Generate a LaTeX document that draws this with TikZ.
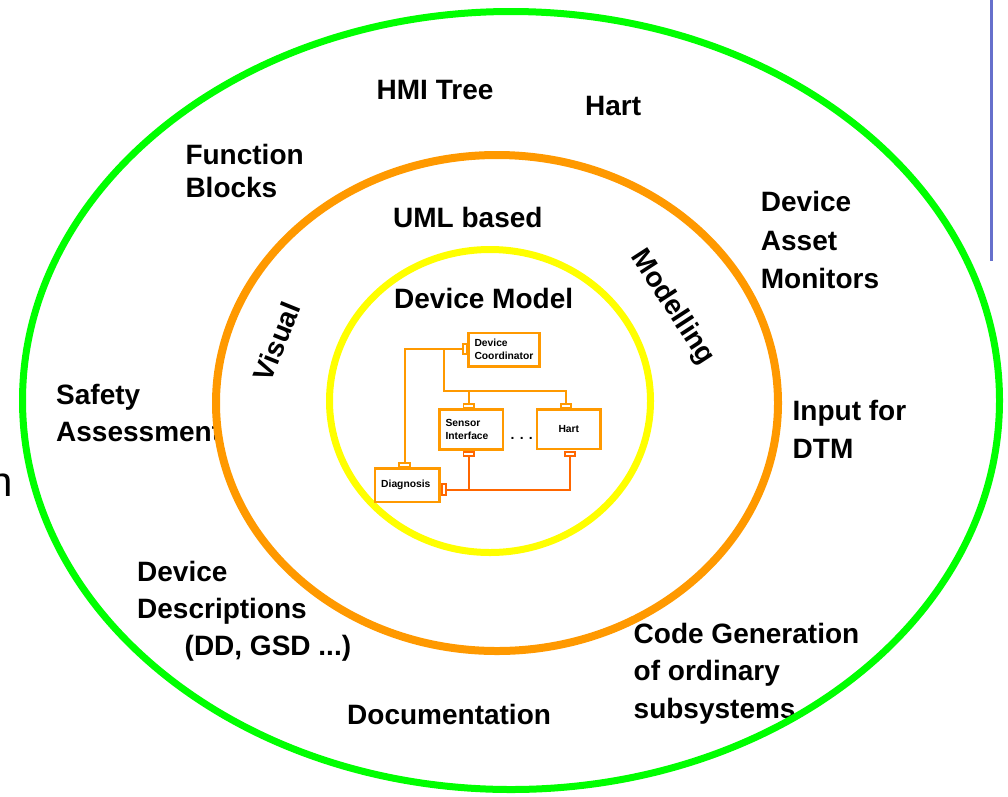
\documentclass[tikz,border=0pt]{standalone}
\usepackage{fontspec}
\setmainfont{Liberation Sans}
\definecolor{ringgreen}{RGB}{0,255,0}
\definecolor{ringorange}{RGB}{255,153,0}
\definecolor{ringyellow}{RGB}{255,255,0}
\definecolor{umlorange}{RGB}{255,153,0}
\definecolor{umlred}{RGB}{255,102,0}
\definecolor{sidebar}{RGB}{102,112,204}
\begin{document}
\begin{tikzpicture}[x=1pt,y=-1pt,
  lbl/.style={anchor=base west, inner sep=0pt, font=\bfseries\fontsize{28}{37}\selectfont},
  tilted/.style={inner sep=0pt, font=\bfseries\fontsize{28}{37}\selectfont},
  ring/.style={line width=7pt},
  ubox/.style={draw=umlorange, line width=2.4pt, fill=white, rectangle,
    inner xsep=6pt, inner ysep=0pt, align=left,
    font=\bfseries\fontsize{10.3}{13}\selectfont},
  port/.style={draw=umlorange, line width=1.8pt, fill=white, rectangle, inner sep=0pt},
  portlow/.style={port, draw=umlred},
  wire/.style={draw=umlorange, line width=2pt},
  wirelow/.style={draw=umlred, line width=2pt}
]
\useasboundingbox (0,0) rectangle (1008,796);

% labels of the outer ring
\node[lbl] (hmi) at (376.5,99.3) {HMI Tree};
\node[lbl] (hartout) at (585,115) {Hart};
\node[lbl] (fb1) at (185.3,164.3) {Function};
\node[lbl] (fb2) at (185.3,197.7) {Blocks};
\node[lbl] (dam1) at (760.7,211.7) {Device};
\node[lbl] (dam2) at (760.7,250) {Asset};
\node[lbl] (dam3) at (760.7,288.3) {Monitors};
\node[lbl] (sa1) at (56,404.3) {Safety};
\node[lbl] (sa2) at (56,441) {Assessment};
\node[lbl] (in1) at (792.5,420) {Input for};
\node[lbl] (in2) at (792.5,458.3) {DTM};
\node[lbl] (dd1) at (137,581) {Device};
\node[lbl] (dd2) at (137,618.5) {Descriptions};
\node[lbl] (dd3) at (184.5,655.5) {(DD, GSD ...)};
\node[lbl] (cg1) at (633.5,643.3) {Code Generation};
\node[lbl] (cg2) at (633.5,680.5) {of ordinary};
\node[lbl] (cg3) at (633.5,718.3) {subsystems};
\node[lbl] (doc) at (347,724) {Documentation};
\node[anchor=base west, inner sep=0pt, font=\fontsize{42}{42}\selectfont] (cut) at (-10.6,496.7) {n};

% labels of the middle ring
\node[lbl] (uml) at (393,227.7) {UML based};
\node[tilted, rotate=68] (visual) at (276.7,341.7) {Visual};
\node[tilted, rotate=-57] (modelling) at (672.5,307.5) {Modelling};

% label of the inner ring
\node[lbl] (dm) at (394,308.3) {Device Model};

% rings
\draw[ring, ringgreen] (511,400.5) ellipse [x radius=488.5, y radius=389];
\draw[ring, line width=8pt, ringorange] (497,403) ellipse [x radius=281, y radius=248];
\draw[ring, ringyellow] (490,401) ellipse [x radius=160.5, y radius=151.5];

% side bar
\draw[sidebar, line width=3.3pt] (991.7,0) -- (991.7,261);

% UML class boxes
\node[ubox, text width=59pt, minimum height=33.6pt] (dc) at (504,349.7) {Device\\Coordinator};
\node[ubox, text width=51.6pt, minimum height=40pt] (si) at (471.3,429.5) {Sensor\\Interface};
\node[ubox, text width=51.3pt, minimum height=39.3pt, align=center] (hart) at (568.85,429.2) {Hart};
\node[ubox, text width=52.3pt, minimum height=33.6pt] (diag) at (407.35,485.3) {Diagnosis};
\node[anchor=base, inner sep=0pt, font=\bfseries\fontsize{14}{14}\selectfont] (dots) at (521.7,439.5) {. . .};

% ports
\node[port, minimum width=3.8pt, minimum height=10.2pt] (dcp) at (464.5,349) {};
\node[port, minimum width=10.5pt, minimum height=3.8pt] (sipt) at (468.8,405.5) {};
\node[portlow, minimum width=10.5pt, minimum height=4.2pt] (sipb) at (468.8,453.7) {};
\node[port, minimum width=9.9pt, minimum height=3.8pt] (hartpt) at (565.8,405.5) {};
\node[portlow, minimum width=10.2pt, minimum height=4.2pt] (hartpb) at (570,453.7) {};
\node[port, minimum width=10.6pt, minimum height=3.8pt] (diagpt) at (404.5,464.5) {};
\node[portlow, minimum width=4.2pt, minimum height=10.9pt] (diagpr) at (443.7,489.7) {};

% connectors
\coordinate (bus) at (444.3,390.7);
\draw[wire] (dcp.west) -- (dcp.west -| diagpt.north) -- (diagpt.north);
\draw[wire] (bus |- dcp.west) -- (bus) -- (bus -| hartpt.north) -- (hartpt.north);
\draw[wire] (bus -| sipt.north) -- (sipt.north);
\draw[wirelow] (diagpr.east) -- (diagpr.east -| hartpb.south) -- (hartpb.south);
\draw[wirelow] (diagpr.east -| sipb.south) -- (sipb.south);
\end{tikzpicture}
\end{document}
